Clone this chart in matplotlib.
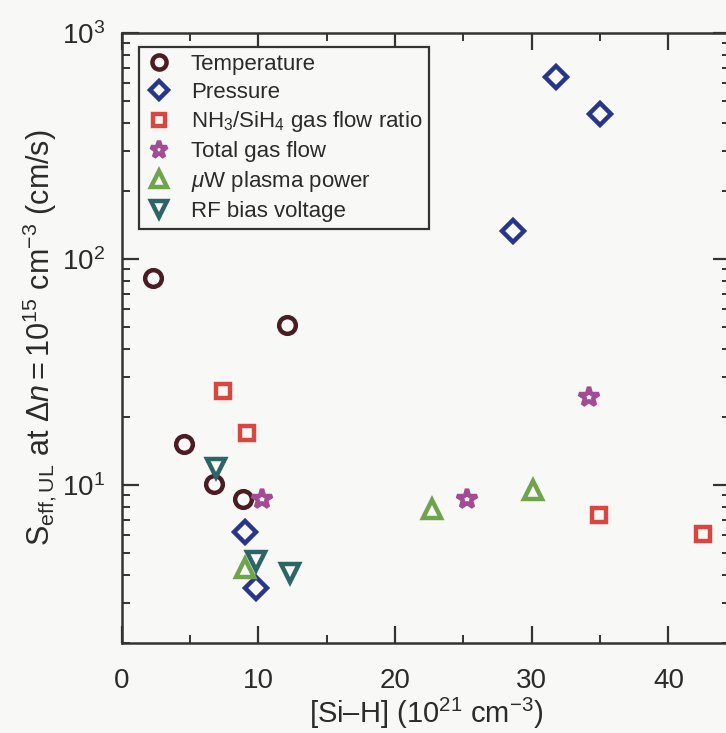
import matplotlib
matplotlib.use("Agg")
import matplotlib.pyplot as plt
from matplotlib.ticker import LogLocator, MultipleLocator, NullFormatter

plt.rcParams['font.family'] = ['Liberation Sans', 'DejaVu Sans']
plt.rcParams['mathtext.fontset'] = 'custom'
plt.rcParams['mathtext.rm'] = 'Liberation Sans'
plt.rcParams['mathtext.it'] = 'Liberation Sans:italic'
plt.rcParams['mathtext.bf'] = 'Liberation Sans:bold'

# Data
temp_x = [2.3, 4.6, 6.8, 8.9, 12.1]
temp_y = [82, 15.2, 10.1, 8.7, 51]

pres_x = [31.8, 35.0, 28.6, 9.0, 9.8]
pres_y = [640, 440, 133, 6.2, 3.5]

nh3_x = [7.4, 9.2, 34.9, 42.5]
nh3_y = [26, 17, 7.4, 6.1]

tgf_x = [34.2, 25.3, 10.3]
tgf_y = [24.5, 8.7, 8.7]

uw_x = [30.1, 22.7, 9.0]
uw_y = [9.5, 7.8, 4.3]

rf_x = [6.9, 9.8, 12.3]
rf_y = [11.9, 4.6, 4.1]

labels = ['Temperature', 'Pressure', r'NH$_3$/SiH$_4$ gas flow ratio',
          'Total gas flow', r'$\mu$W plasma power', 'RF bias voltage']
colors = ['#4b1c22', '#27358a', '#d9463f', '#a34b95', '#6fa44c', '#2d6466']
markers = ['o', 'D', 's', '*', '^', 'v']
sizes = [12, 11, 10, 15, 13, 13]
series = [(temp_x, temp_y), (pres_x, pres_y), (nh3_x, nh3_y),
          (tgf_x, tgf_y), (uw_x, uw_y), (rf_x, rf_y)]

bg = '#f8f8f7'
txt = '#2b2b2b'
fig = plt.figure(figsize=(7.26, 7.33), dpi=100, facecolor=bg)
ax = fig.add_axes([121.5 / 726, 90 / 733, (730 - 121.5) / 726, 610 / 733])
ax.set_facecolor(bg)

for (xs, ys), lab, c, m, s in zip(series, labels, colors, markers, sizes):
    ax.plot(xs, ys, linestyle='none', marker=m, markersize=s,
            markerfacecolor='none', markeredgecolor=c, markeredgewidth=3.2,
            label=lab)

ax.set_yscale('log')
ax.set_xlim(0, 44.5)
ax.set_ylim(2.0, 1000)
ax.xaxis.set_major_locator(MultipleLocator(10))
ax.xaxis.set_minor_locator(MultipleLocator(5))
ax.yaxis.set_major_locator(LogLocator(base=10, numticks=10))
ax.yaxis.set_minor_locator(LogLocator(base=10, subs=range(2, 10), numticks=10))
ax.yaxis.set_minor_formatter(NullFormatter())

ax.tick_params(which='both', direction='in', top=True, right=True,
               colors='#333333', labelcolor=txt, labelsize=20)
ax.tick_params(axis='x', which='major', pad=18)
ax.tick_params(axis='y', which='major', pad=12)
ax.tick_params(which='major', length=12, width=1.6)
ax.tick_params(which='minor', length=6, width=1.4)
for sp in ax.spines.values():
    sp.set_linewidth(1.8)
    sp.set_color('#333333')

ax.set_xlabel('[Si\u2013H] (10$^{21}$ cm$^{-3}$)', fontsize=21, color=txt, labelpad=1)
ax.set_ylabel(r'S$_{\rm eff,UL}$ at $\Delta n = 10^{15}$ cm$^{-3}$ (cm/s)',
              fontsize=22, color=txt, labelpad=2)

leg = ax.legend(loc='upper left', bbox_to_anchor=(0.028, 0.977), fontsize=16,
                frameon=True, fancybox=False, edgecolor='#333333',
                facecolor=bg, framealpha=1, handlelength=1.2,
                handletextpad=0.85, labelspacing=0.31, borderpad=0.3,
                borderaxespad=0, markerscale=0.85)
leg.get_frame().set_linewidth(1.6)
for t in leg.get_texts():
    t.set_color(txt)

fig.savefig('out.png', dpi=100, facecolor=bg)
